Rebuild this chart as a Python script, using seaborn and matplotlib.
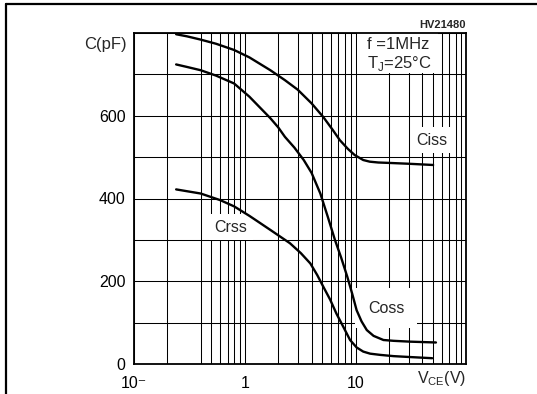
import matplotlib
matplotlib.use("Agg")
import matplotlib.pyplot as plt
from matplotlib.lines import Line2D
from matplotlib.patches import Rectangle
import seaborn as sns
import pandas as pd

# ---- data ----
ciss_v = [0.24, 0.3, 0.4, 0.55, 0.8, 1.1, 1.7, 2.3, 3.0, 4.0, 5.1, 6.2, 7.2, 8.5, 9.8, 11.7, 13.4, 16, 20, 30, 50]
ciss_c = [797, 792, 784, 774, 759, 741, 710, 686, 663, 630, 597, 566, 541, 520, 505, 493, 489, 487, 486, 484, 481]

coss_v = [0.24, 0.3, 0.4, 0.55, 0.8, 1.1, 1.7, 2.0, 2.3, 2.8, 3.4, 4.0, 4.8, 5.6, 6.5, 7.4, 8.4, 9.3, 10.2, 11.3, 12.6, 14.5, 17.8, 22, 31, 53]
coss_c = [724, 718, 710, 697, 678, 646, 594, 572, 549, 523, 493, 462, 412, 356, 300, 257, 211, 170, 130, 103, 82, 68, 58, 56, 54, 52]

crss_v = [0.24, 0.4, 0.6, 0.8, 1.1, 1.3, 1.7, 2.55, 3.2, 3.9, 4.5, 5.1, 5.9, 6.7, 7.8, 8.9, 10.2, 11.7, 13.5, 16.7, 22, 30, 49]
crss_c = [422, 412, 396, 381, 358, 345, 324, 292, 268, 243, 215, 187, 155, 122, 88, 58, 40, 30, 25, 22, 19, 17, 14]

x_major = [0.1, 1, 10]
x_major_labels = ["10\u207b", "1", "10"]
x_grid = [0.2, 0.4, 0.5, 0.6, 0.7, 0.8, 0.9,
          2, 3, 4, 5, 6, 7, 8, 9,
          20, 30, 40, 50, 60, 70, 80, 90]
y_ticks = [0, 100, 200, 300, 400, 500, 600, 700, 800]
y_labels = ["0", "", "200", "", "400", "", "600", "", ""]

frames = []
for name, v, c in [("Ciss", ciss_v, ciss_c), ("Coss", coss_v, coss_c), ("Crss", crss_v, crss_c)]:
    frames.append(pd.DataFrame({"V": v, "C": c, "series": name}))
df = pd.concat(frames, ignore_index=True)

sns.set_style("white")
plt.rcParams["font.family"] = ["Liberation Sans", "DejaVu Sans"]

fig = plt.figure(figsize=(5.37, 3.94), dpi=100)
ax = fig.add_axes([134 / 537, 30 / 394, 332.5 / 537, 331 / 394])

for name in ["Ciss", "Coss", "Crss"]:
    sub = df[df["series"] == name]
    sns.lineplot(data=sub, x="V", y="C", ax=ax, color="black", lw=1.7,
                 sort=False, estimator=None, legend=False, zorder=3)

ax.set_xscale("log")
ax.set_xlim(0.1, 100)
ax.set_ylim(0, 800)
ax.set_xlabel("")
ax.set_ylabel("")

ax.set_xticks(x_major)
ax.set_xticklabels(x_major_labels)
ax.set_xticks(x_grid, minor=True)
ax.set_xticklabels([], minor=True)
ax.set_yticks(y_ticks)
ax.set_yticklabels(y_labels)
ax.tick_params(axis="both", which="both", length=0, labelsize=11.5, colors="black")
ax.tick_params(axis="x", pad=9)
ax.tick_params(axis="y", pad=6)

ax.set_axisbelow(True)
ax.grid(True, which="both", axis="x", color="black", lw=0.75)
ax.grid(True, which="major", axis="y", color="black", lw=0.75)
for s in ax.spines.values():
    s.set_color("black")
    s.set_linewidth(1.3)

# white box behind conditions text
ax.add_patch(Rectangle((10.2, 703), 55 - 10.2, 97, facecolor="white", edgecolor="none", zorder=1))
ax.text(12.7, 771, "f =1MHz", fontsize=12, ha="left", va="center", zorder=4)
ax.text(12.7, 727, r"T$_{\mathregular{J}}$=25°C", fontsize=12, ha="left", va="center", zorder=4)

box = dict(facecolor="white", edgecolor="none", pad=4)
ax.text(48.6, 541, "Ciss", fontsize=11.5, ha="center", va="center", bbox=box, zorder=2)
ax.text(0.75, 331, "Crss", fontsize=11.5, ha="center", va="center", bbox=box, zorder=2)
ax.text(18.8, 135, "Coss", fontsize=11.5, ha="center", va="center",
        bbox=dict(facecolor="white", edgecolor="none", pad=9), zorder=2)

# axis captions
fig.text(127 / 537, 1 - 44 / 394, "C(pF)", fontsize=12, ha="right", va="center")
fig.text(466 / 537, 1 - 378 / 394, r"V$_{\mathregular{CE}}$(V)", fontsize=11.5, ha="right", va="center")
fig.text(466 / 537, 1 - 25 / 394, "HV21480", fontsize=8, fontweight="bold", ha="right", va="center")

# outer frame (top and left)
fig.add_artist(Line2D([5.5 / 537, 1], [1 - 3.5 / 394, 1 - 3.5 / 394], color="black", lw=1.6))
fig.add_artist(Line2D([5.5 / 537, 5.5 / 537], [0, 1 - 3.5 / 394], color="black", lw=1.6))

fig.savefig("out.png", dpi=100)
